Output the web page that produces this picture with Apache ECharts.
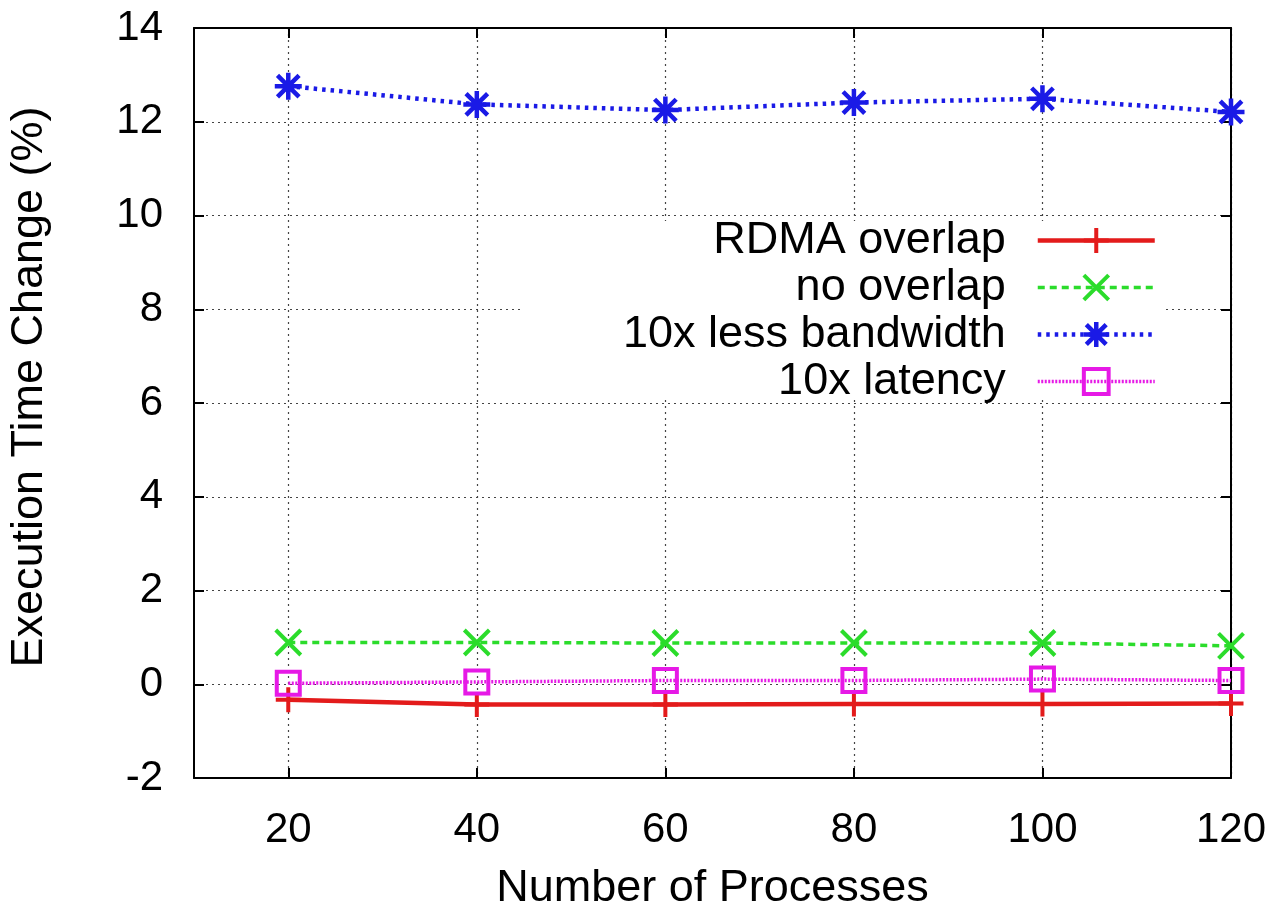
<!DOCTYPE html>
<html><head><meta charset="utf-8">
<script src="https://cdn.jsdelivr.net/npm/echarts@6/dist/echarts.min.js"></script>
<style>html,body{margin:0;padding:0;background:#fff}#c{width:1273px;height:911px}</style>
</head><body><div id="c"></div>
<script>
const processes = [20, 40, 60, 80, 100, 120];
const rdmaOverlap = [-0.33, -0.43, -0.43, -0.42, -0.42, -0.41];
const noOverlap = [0.89, 0.89, 0.88, 0.88, 0.88, 0.82];
const lessBandwidth = [12.76, 12.37, 12.25, 12.41, 12.49, 12.21];
const moreLatency = [0.02, 0.05, 0.08, 0.08, 0.11, 0.08];
const seriesNames = ['RDMA overlap', 'no overlap', '10x less bandwidth', '10x latency'];
const xTickValues = [20, 40, 60, 80, 100, 120];
const xTitle = 'Number of Processes';
const yTitle = 'Execution Time Change (%)';

const FONT = 'Liberation Sans, Arial, sans-serif';
const pair = vals => processes.map((x, i) => [x, vals[i]]);
const PLUS = 'path://M0,-1L0,1M-1,0L1,0';
const CROSS = 'path://M-1,-1L1,1M-1,1L1,-1';
const STAR = 'path://M0,-1L0,1M-1,0L1,0M-0.8,-0.8L0.8,0.8M-0.8,0.8L0.8,-0.8';

const RED = '#e31b1b', GREEN = '#2bdc2b', BLUE = '#1a1ae6', MAG = '#e619e6';

const styles = [
  { color: RED, symbol: PLUS, size: 25, type: 'solid', width: 4.5, bw: 4 },
  { color: GREEN, symbol: CROSS, size: 25, type: [7, 5], width: 3.5, bw: 4 },
  { color: BLUE, symbol: STAR, size: 27, type: [3.5, 5], width: 4.5, bw: 4.5 },
  { color: MAG, symbol: 'rect', size: 23, type: [2, 1.5], width: 3.5, bw: 4, fill: 'rgba(255,255,255,0)' }
];
const values = [rdmaOverlap, noOverlap, lessBandwidth, moreLatency];

const chart = echarts.init(document.getElementById('c'), null, { renderer: 'canvas' });
const gridLine = { show: true, lineStyle: { color: '#444', width: 1.2, type: [2, 4] } };
chart.setOption({
  backgroundColor: '#fff',
  animation: false,
  grid: { left: 194, right: 42, top: 28, bottom: 133, containLabel: false, outerBoundsMode: 'none' },
  graphic: [{
    type: 'rect', z: 1, silent: true,
    shape: { x: 520, y: 221, width: 645, height: 177 },
    style: { fill: '#fff' }
  }],
  legend: {
    data: seriesNames.map((n, i) => ({
      name: n,
      itemStyle: { color: styles[i].fill || styles[i].color, borderColor: styles[i].color, borderWidth: styles[i].bw },
      lineStyle: { color: styles[i].color, width: styles[i].width, type: styles[i].type }
    })),
    orient: 'vertical', align: 'right',
    right: 116, top: 218,
    padding: 0,
    itemWidth: 117, itemHeight: 31, itemGap: 2,
    textStyle: { fontSize: 45, fontFamily: FONT, color: '#000', lineHeight: 44, padding: [0, 27, 0, 0] },
    selectedMode: false
  },
  xAxis: [{
    type: 'value', min: 10, max: 120, position: 'bottom',
    name: xTitle, nameLocation: 'middle', nameGap: 88,
    nameTextStyle: { fontSize: 45, fontFamily: FONT, color: '#000' },
    axisLine: { show: true, onZero: false, lineStyle: { color: '#000', width: 2 } },
    axisTick: { show: true, inside: true, length: 10, customValues: xTickValues, lineStyle: { color: '#000', width: 2 } },
    axisLabel: { customValues: xTickValues, fontSize: 42, fontFamily: FONT, color: '#000', margin: 31 },
    splitLine: gridLine
  }, {
    type: 'value', min: 10, max: 120, position: 'top',
    axisLine: { show: true, onZero: false, lineStyle: { color: '#000', width: 2 } },
    axisTick: { show: true, inside: true, length: 10, customValues: xTickValues, lineStyle: { color: '#000', width: 2 } },
    axisLabel: { show: false }, splitLine: { show: false }
  }],
  yAxis: [{
    type: 'value', min: -2, max: 14, interval: 2, position: 'left',
    name: yTitle, nameLocation: 'middle', nameGap: 142,
    nameTextStyle: { fontSize: 45, fontFamily: FONT, color: '#000', padding: [0, 0, 0, 32] },
    axisLine: { show: true, onZero: false, lineStyle: { color: '#000', width: 2 } },
    axisTick: { show: true, inside: true, length: 10, lineStyle: { color: '#000', width: 2 } },
    axisLabel: { fontSize: 42, fontFamily: FONT, color: '#000', margin: 31 },
    splitLine: gridLine
  }, {
    type: 'value', min: -2, max: 14, interval: 2, position: 'right',
    axisLine: { show: true, onZero: false, lineStyle: { color: '#000', width: 2 } },
    axisTick: { show: true, inside: true, length: 10, lineStyle: { color: '#000', width: 2 } },
    axisLabel: { show: false }, splitLine: { show: false }
  }],
  series: seriesNames.map((n, i) => ({
    name: n, type: 'line', data: pair(values[i]),
    symbol: styles[i].symbol, symbolSize: styles[i].size, showAllSymbol: true,
    lineStyle: { color: styles[i].color, width: styles[i].width, type: styles[i].type },
    itemStyle: { color: styles[i].fill || styles[i].color, borderColor: styles[i].color, borderWidth: styles[i].bw },
    emphasis: { disabled: true }
  }))
});
</script></body></html>
